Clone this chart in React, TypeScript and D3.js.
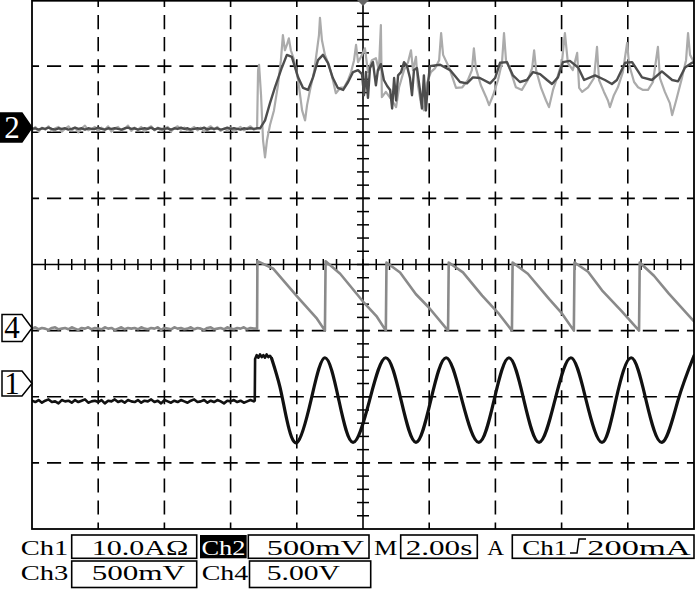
import React from 'react';
import * as d3 from 'd3';

// ---------- DATA (time in s, values in divisions relative to each channel's ground) ----------
const TIME_PER_DIV = 2; // M 2.00s
const H_DIVS = 10;
const V_DIVS = 8;
const SAMPLE_STEP = 0.1; // s, pre-trigger sampled records

const channelLabels = ['Ch1', 'Ch2', 'Ch3', 'Ch4'];
const channelScales = ['10.0AΩ', '500mV', '500mV', '5.00V'];
const timebaseLabel = '2.00s';
const triggerSource = 'Ch1';
const triggerLevel = '200mA';

const ch2Offset = 2.0;
const ch4Offset = -1.0;
const ch1Offset = -1.79;

const markerLabels = ['2', '4', '1'];
const markerDivs = [2.07, -0.96, -1.8];

// Channel 1 (black) – pre-trigger record
const ch1Pre = [
  -0.27, -0.29, -0.26, -0.30, -0.27, -0.25, -0.29, -0.28, -0.31, -0.26,
  -0.28, -0.27, -0.30, -0.26, -0.29, -0.27, -0.25, -0.30, -0.28, -0.27,
  -0.29, -0.26, -0.31, -0.27, -0.28, -0.25, -0.29, -0.27, -0.30, -0.26,
  -0.28, -0.29, -0.26, -0.30, -0.27, -0.28, -0.25, -0.29, -0.27, -0.31,
  -0.26, -0.28, -0.30, -0.27, -0.29, -0.26, -0.28, -0.30, -0.27, -0.25,
  -0.29, -0.28, -0.26, -0.30, -0.27, -0.29, -0.26, -0.28, -0.31, -0.27,
  -0.28, -0.26, -0.29, -0.27, -0.30, -0.28, -0.26, -0.28,
];
const ch1Step = [
  [6.73, -0.27], [6.74, 0.36], [6.79, 0.42], [6.84, 0.38], [6.89, 0.43], [6.94, 0.39],
  [6.99, 0.42], [7.04, 0.38], [7.09, 0.43], [7.14, 0.39], [7.19, 0.41], [7.24, 0.37],
];
const ch1Wave = [
  [7.24, 0.37], [7.49, -0.06], [7.70, -0.56], [8.01, -0.90], [8.43, -0.26], [8.85, 0.38],
  [9.27, -0.26], [9.70, -0.90], [10.20, -0.26], [10.69, 0.38], [11.15, -0.26], [11.60, -0.90],
  [12.05, -0.26], [12.51, 0.38], [12.99, -0.26], [13.50, -0.90], [13.96, -0.26], [14.41, 0.38],
  [14.86, -0.26], [15.32, -0.90], [15.80, -0.26], [16.28, 0.38], [16.74, -0.26], [17.22, -0.90],
  [17.64, -0.26], [18.10, 0.38], [18.55, -0.26], [19.03, -0.90], [19.52, -0.26], [20.0, 0.41],
];

// Channel 4 (grey sawtooth)
const ch4Pre = [
  0.03, 0.05, 0.02, 0.04, 0.03, 0.01, 0.04, 0.05, 0.02, 0.03,
  0.04, 0.02, 0.05, 0.03, 0.01, 0.04, 0.03, 0.05, 0.02, 0.04,
  0.03, 0.02, 0.05, 0.03, 0.04, 0.01, 0.03, 0.05, 0.02, 0.04,
  0.03, 0.04, 0.02, 0.05, 0.03, 0.02, 0.04, 0.03, 0.05, 0.01,
  0.04, 0.03, 0.02, 0.05, 0.03, 0.04, 0.02, 0.03, 0.05, 0.02,
  0.04, 0.03, 0.01, 0.04, 0.05, 0.02, 0.03, 0.04, 0.02, 0.05,
  0.03, 0.02, 0.04, 0.03, 0.05, 0.02, 0.04, 0.03,
];
const ch4Saw = [
  [6.80, 0.03], [6.81, 1.05], [7.28, 0.94], [8.04, 0.50], [8.61, 0.18], [8.85, 0.0],
  [8.87, 1.05], [9.31, 0.86], [10.0, 0.44], [10.42, 0.21], [10.69, 0.0],
  [10.71, 1.03], [11.12, 0.88], [11.60, 0.55], [11.99, 0.35], [12.57, 0.0],
  [12.59, 1.03], [13.02, 0.88], [13.60, 0.53], [14.08, 0.27], [14.50, 0.0],
  [14.52, 1.03], [14.98, 0.86], [15.62, 0.48], [16.01, 0.26], [16.37, 0.0],
  [16.39, 1.03], [16.80, 0.89], [17.22, 0.61], [17.82, 0.29], [18.34, 0.0],
  [18.36, 1.03], [18.79, 0.83], [19.24, 0.56], [20.0, 0.14],
];

// Channel 2 – two overlaid acquisitions (dark and light grey)
const ch2DarkPre = [
  0.05, 0.06, 0.04, 0.06, 0.05, 0.07, 0.05, 0.04, 0.06, 0.05,
  0.06, 0.04, 0.05, 0.07, 0.05, 0.06, 0.04, 0.06, 0.05, 0.05,
  0.07, 0.05, 0.04, 0.06, 0.05, 0.06, 0.05, 0.04, 0.06, 0.07,
  0.05, 0.06, 0.04, 0.05, 0.06, 0.05, 0.07, 0.04, 0.06, 0.05,
  0.05, 0.06, 0.04, 0.06, 0.05, 0.07, 0.05, 0.06, 0.04, 0.05,
  0.06, 0.05, 0.07, 0.04, 0.06, 0.05, 0.06, 0.04, 0.05, 0.07,
  0.05, 0.06, 0.05, 0.04, 0.06, 0.05, 0.06, 0.05, 0.06,
];
const ch2DarkPost = [
  [6.83, 0.06], [6.89, 0.06], [7.04, 0.18], [7.19, 0.44], [7.34, 0.68], [7.55, 0.98], [7.70, 1.17],
  [7.85, 1.14], [8.04, 0.83], [8.19, 0.67], [8.34, 0.64], [8.49, 0.83], [8.64, 1.09], [8.79, 1.17],
  [8.94, 1.05], [9.09, 0.82], [9.24, 0.67], [9.40, 0.64], [9.55, 0.76], [9.70, 0.91], [9.85, 0.94],
  [9.97, 0.88], [10.03, 0.56], [10.09, 0.91], [10.15, 0.52], [10.21, 0.97], [10.30, 1.06], [10.39, 0.71],
  [10.45, 0.94], [10.54, 1.03], [10.63, 0.79], [10.73, 0.70], [10.82, 0.64], [10.88, 0.36], [10.94, 0.82],
  [11.00, 0.48], [11.06, 0.86], [11.15, 0.91], [11.24, 1.06], [11.33, 1.00], [11.42, 0.82], [11.48, 0.56],
  [11.54, 0.94], [11.63, 0.97], [11.72, 0.64], [11.78, 0.36], [11.84, 0.86], [11.90, 0.33], [11.96, 0.71],
  [12.02, 1.00], [12.33, 1.02], [12.63, 0.94], [12.93, 0.76], [13.14, 0.74], [13.32, 0.83], [13.53, 0.82],
  [13.84, 0.74], [13.99, 0.82], [14.14, 1.05], [14.35, 1.06], [14.53, 0.86], [14.74, 0.76], [14.95, 0.79],
  [15.14, 0.91], [15.35, 0.88], [15.56, 0.79], [15.71, 0.73], [15.89, 0.83], [16.04, 1.06], [16.25, 1.08],
  [16.50, 0.98], [16.68, 0.79], [17.01, 0.86], [17.31, 0.79], [17.52, 0.73], [17.67, 0.79], [17.92, 1.05],
  [18.13, 1.06], [18.43, 0.83], [18.73, 0.79], [19.03, 0.92], [19.34, 0.79], [19.52, 0.77], [19.73, 0.98],
  [19.94, 1.05], [20.0, 1.06],
];
const ch2LightPre = [
  0.03, 0.08, 0.01, 0.07, 0.04, 0.09, 0.02, 0.06, 0.08, 0.01,
  0.05, 0.09, 0.03, 0.07, 0.00, 0.06, 0.10, 0.03, 0.05, 0.08,
  0.02, 0.07, 0.04, 0.09, 0.01, 0.06, 0.08, 0.03, 0.05, 0.10,
  0.02, 0.07, 0.04, 0.08, 0.01, 0.06, 0.09, 0.03, 0.07, 0.02,
  0.05, 0.08, 0.01, 0.06, 0.09, 0.04, 0.07, 0.02, 0.05, 0.08,
  0.03, 0.07, 0.01, 0.06, 0.09, 0.04, 0.08, 0.02, 0.06, 0.03,
  0.07, 0.01, 0.05, 0.08, 0.03, 0.06, 0.09, 0.04, 0.06,
];
const ch2LightPost = [
  [6.83, 0.94], [6.86, 1.02], [6.92, 0.56], [6.98, -0.12], [7.04, -0.38], [7.10, -0.12], [7.19, 0.11],
  [7.31, 0.33], [7.43, 0.71], [7.52, 1.09], [7.58, 1.47], [7.64, 1.24], [7.70, 1.32], [7.76, 1.42],
  [7.82, 1.24], [7.92, 1.09], [8.04, 0.79], [8.16, 0.33], [8.25, 0.18], [8.31, 0.41], [8.40, 0.64],
  [8.52, 0.91], [8.61, 1.24], [8.67, 1.47], [8.70, 1.73], [8.76, 1.39], [8.85, 1.17], [8.97, 1.02],
  [9.09, 0.79], [9.18, 0.59], [9.31, 0.67], [9.43, 0.68], [9.55, 0.79], [9.64, 0.91], [9.73, 1.09],
  [9.79, 1.32], [9.85, 1.06], [9.97, 1.17], [10.06, 1.27], [10.15, 0.91], [10.27, 1.09], [10.39, 1.12],
  [10.48, 0.94], [10.54, 1.62], [10.57, 0.53], [10.69, 0.61], [10.88, 0.48], [11.00, 0.38], [11.09, 0.68],
  [11.24, 0.94], [11.36, 1.06], [11.45, 1.24], [11.51, 0.94], [11.60, 1.14], [11.66, 0.71], [11.75, 0.44],
  [11.84, 0.33], [11.93, 0.74], [12.05, 0.91], [12.18, 0.97], [12.30, 1.09], [12.36, 1.50], [12.42, 1.17],
  [12.60, 0.98], [12.81, 0.67], [13.00, 0.68], [13.17, 0.79], [13.29, 0.94], [13.35, 1.27], [13.41, 0.97],
  [13.56, 0.71], [13.72, 0.53], [13.81, 0.41], [13.93, 0.56], [14.08, 0.79], [14.20, 1.06], [14.26, 1.50],
  [14.32, 1.09], [14.47, 0.91], [14.62, 0.68], [14.80, 0.64], [14.98, 0.79], [15.11, 0.97], [15.17, 1.24],
  [15.23, 0.94], [15.38, 0.67], [15.53, 0.48], [15.62, 0.38], [15.74, 0.64], [15.89, 0.86], [16.01, 1.06],
  [16.10, 1.50], [16.19, 1.05], [16.34, 0.94], [16.47, 1.20], [16.53, 0.67], [16.62, 0.61], [16.80, 0.68],
  [16.98, 0.82], [17.07, 1.29], [17.13, 0.79], [17.28, 0.61], [17.40, 0.48], [17.46, 0.38], [17.58, 0.56],
  [17.70, 0.68], [17.85, 0.91], [17.98, 1.35], [18.04, 1.02], [18.19, 0.76], [18.31, 0.68], [18.46, 0.64],
  [18.61, 0.64], [18.76, 0.76], [18.91, 1.29], [18.97, 0.82], [19.12, 0.61], [19.27, 0.44], [19.34, 0.26],
  [19.46, 0.48], [19.64, 0.83], [19.76, 1.09], [19.82, 1.50], [19.88, 1.17], [20.0, 1.06],
];

// ---------- helpers ----------
type Pt = [number, number];
const sampled = (arr: number[]): Pt[] => arr.map((v, i) => [i * SAMPLE_STEP, v] as Pt);

const SERIF = "'Liberation Serif', 'DejaVu Serif', 'Times New Roman', serif";

export default function App() {
  const left = 32, right = 694, top = 0, bottom = 529;
  const x = d3.scaleLinear().domain([0, H_DIVS * TIME_PER_DIV]).range([left, right]);
  const y = d3.scaleLinear().domain([-V_DIVS / 2, V_DIVS / 2]).range([bottom, top]);
  const divW = (right - left) / H_DIVS;
  const divH = (bottom - top) / V_DIVS;

  const lineFor = (offset: number, curve: d3.CurveFactory = d3.curveLinear) =>
    d3.line<Pt>().x((d) => x(d[0])).y((d) => y(d[1] + offset)).curve(curve);

  const ch1A = lineFor(ch1Offset)([...sampled(ch1Pre), ...(ch1Step as Pt[])]) || '';
  const ch1B = lineFor(ch1Offset, d3.curveNatural)(ch1Wave as Pt[]) || '';
  const ch4 = lineFor(ch4Offset)([...sampled(ch4Pre), ...(ch4Saw as Pt[])]) || '';
  const ch2D = lineFor(ch2Offset)([...sampled(ch2DarkPre), ...(ch2DarkPost as Pt[])]) || '';
  const ch2L = lineFor(ch2Offset)([...sampled(ch2LightPre), ...(ch2LightPost as Pt[])]) || '';

  const cx = x((H_DIVS / 2) * TIME_PER_DIV);
  const cy = y(0);
  const period = divW / 3;
  const dash = `${period * 0.64} ${period * 0.36}`;
  const dashOff = period * 0.32;

  const vGrid = d3.range(1, H_DIVS).filter((i) => i !== H_DIVS / 2);
  const hGrid = d3.range(1, V_DIVS).filter((j) => j !== V_DIVS / 2);
  const hMinor = d3.range(1, H_DIVS * 5).map((k) => left + (k * divW) / 5);
  const vMinor = d3.range(1, V_DIVS * 5).map((k) => top + (k * divH) / 5);

  const markerH = [29, 27, 25];
  const markerX0 = [0, 2, 2];

  const r1 = 555, r2 = 580;
  const texts: { t: string; x: number; y: number; len: number; fill?: string }[] = [
    { t: channelLabels[0], x: 20.7, y: r1, len: 47.6 },
    { t: channelScales[0], x: 91.7, y: r1, len: 96.6 },
    { t: channelLabels[1], x: 201.5, y: r1, len: 44, fill: '#fff' },
    { t: channelScales[1], x: 266.7, y: r1, len: 97.3 },
    { t: 'M', x: 374, y: r1, len: 23.3 },
    { t: timebaseLabel, x: 405.7, y: r1, len: 66.6 },
    { t: 'A', x: 487.3, y: r1, len: 16.7 },
    { t: triggerSource, x: 522.3, y: r1, len: 45 },
    { t: triggerLevel, x: 587.3, y: r1, len: 103.4 },
    { t: channelLabels[2], x: 20.7, y: r2, len: 47.6 },
    { t: channelScales[2], x: 91.7, y: r2, len: 93.3 },
    { t: channelLabels[3], x: 201.7, y: r2, len: 46.6 },
    { t: channelScales[3], x: 266.7, y: r2, len: 73.3 },
  ];
  const boxes = [
    [71.7, 535, 125, 23.3],
    [248.3, 535, 120.7, 23.3],
    [400.7, 535, 76.6, 23.3],
    [512.3, 535, 181.7, 23.3],
    [71.7, 561, 125, 26.5],
    [249.5, 561, 121.2, 26.5],
  ];

  return (
    <div style={{ position: 'absolute', left: 0, top: 0 }}>
      <svg width={699} height={589} style={{ display: 'block', background: '#fff' }}>
        <defs>
          <clipPath id="plot">
            <rect x={left} y={top} width={right - left} height={bottom - top} />
          </clipPath>
        </defs>
        <rect x={0} y={0} width={699} height={589} fill="#fff" />
        {/* dashed grid */}
        {vGrid.map((i) => (
          <line key={'v' + i} x1={x(i * TIME_PER_DIV)} x2={x(i * TIME_PER_DIV)} y1={top} y2={bottom}
            stroke="#000" strokeWidth={1.6} strokeDasharray={dash} strokeDashoffset={dashOff} />
        ))}
        {hGrid.map((j) => (
          <line key={'h' + j} x1={left} x2={right} y1={y(j - V_DIVS / 2)} y2={y(j - V_DIVS / 2)}
            stroke="#000" strokeWidth={1.6} strokeDasharray={dash} strokeDashoffset={dashOff} />
        ))}
        {/* centre axes with minor ticks */}
        <line x1={cx} x2={cx} y1={top} y2={bottom} stroke="#000" strokeWidth={1.6} />
        <line x1={left} x2={right} y1={cy} y2={cy} stroke="#000" strokeWidth={1.6} />
        {hMinor.map((px, k) => (
          <line key={'hm' + k} x1={px} x2={px} y1={cy - 5.5} y2={cy + 5.5} stroke="#000" strokeWidth={1.5} />
        ))}
        {vMinor.map((py, k) => (
          <line key={'vm' + k} x1={cx - 6} x2={cx + 6} y1={py} y2={py} stroke="#000" strokeWidth={1.5} />
        ))}
        {/* traces */}
        <g clipPath="url(#plot)" fill="none" strokeLinejoin="round" strokeLinecap="round">
          <path d={ch2L} stroke="#ababab" strokeWidth={2.2} />
          <path d={ch2D} stroke="#4d4d4d" strokeWidth={2.4} />
          <path d={ch4} stroke="#8a8a8a" strokeWidth={2.6} />
          <path d={ch1A} stroke="#111" strokeWidth={2.6} />
          <path d={ch1B} stroke="#111" strokeWidth={3.2} />
        </g>
        {/* frame */}
        <rect x={left} y={top + 0.75} width={right - left} height={bottom - top - 0.75} fill="none" stroke="#000" strokeWidth={1.8} />
        {/* trigger position marker */}
        <path d={`M${cx - 6},0L${cx + 6},0L${cx},6Z`} fill="#666" />
        {/* channel markers */}
        {markerLabels.map((lab, i) => {
          const yc = y(markerDivs[i]);
          const h = markerH[i];
          const filled = i === 0;
          const d = `M${markerX0[i]},${yc - h / 2}H22L${left},${yc}L22,${yc + h / 2}H${markerX0[i]}Z`;
          return (
            <g key={'m' + lab}>
              <path d={d} fill={filled ? '#000' : '#fff'} stroke="#000" strokeWidth={1.5} />
              <text x={12} y={yc + 10.5} textAnchor="middle" fontFamily={SERIF} fontSize={31}
                fill={filled ? '#fff' : '#000'}>{lab}</text>
            </g>
          );
        })}
        {/* readout */}
        <rect x={200} y={535} width={46.7} height={23.3} fill="#000" />
        {boxes.map((b, i) => (
          <rect key={'b' + i} x={b[0]} y={b[1]} width={b[2]} height={b[3]} fill="none" stroke="#000" strokeWidth={1.6} />
        ))}
        {texts.map((t, i) => (
          <text key={'t' + i} x={t.x} y={t.y} fontFamily={SERIF} fontSize={22} fill={t.fill || '#000'}
            textLength={t.len} lengthAdjust="spacingAndGlyphs">{t.t}</text>
        ))}
        <path d="M570,553H577L579,539H586" fill="none" stroke="#000" strokeWidth={1.5} />
      </svg>
    </div>
  );
}
